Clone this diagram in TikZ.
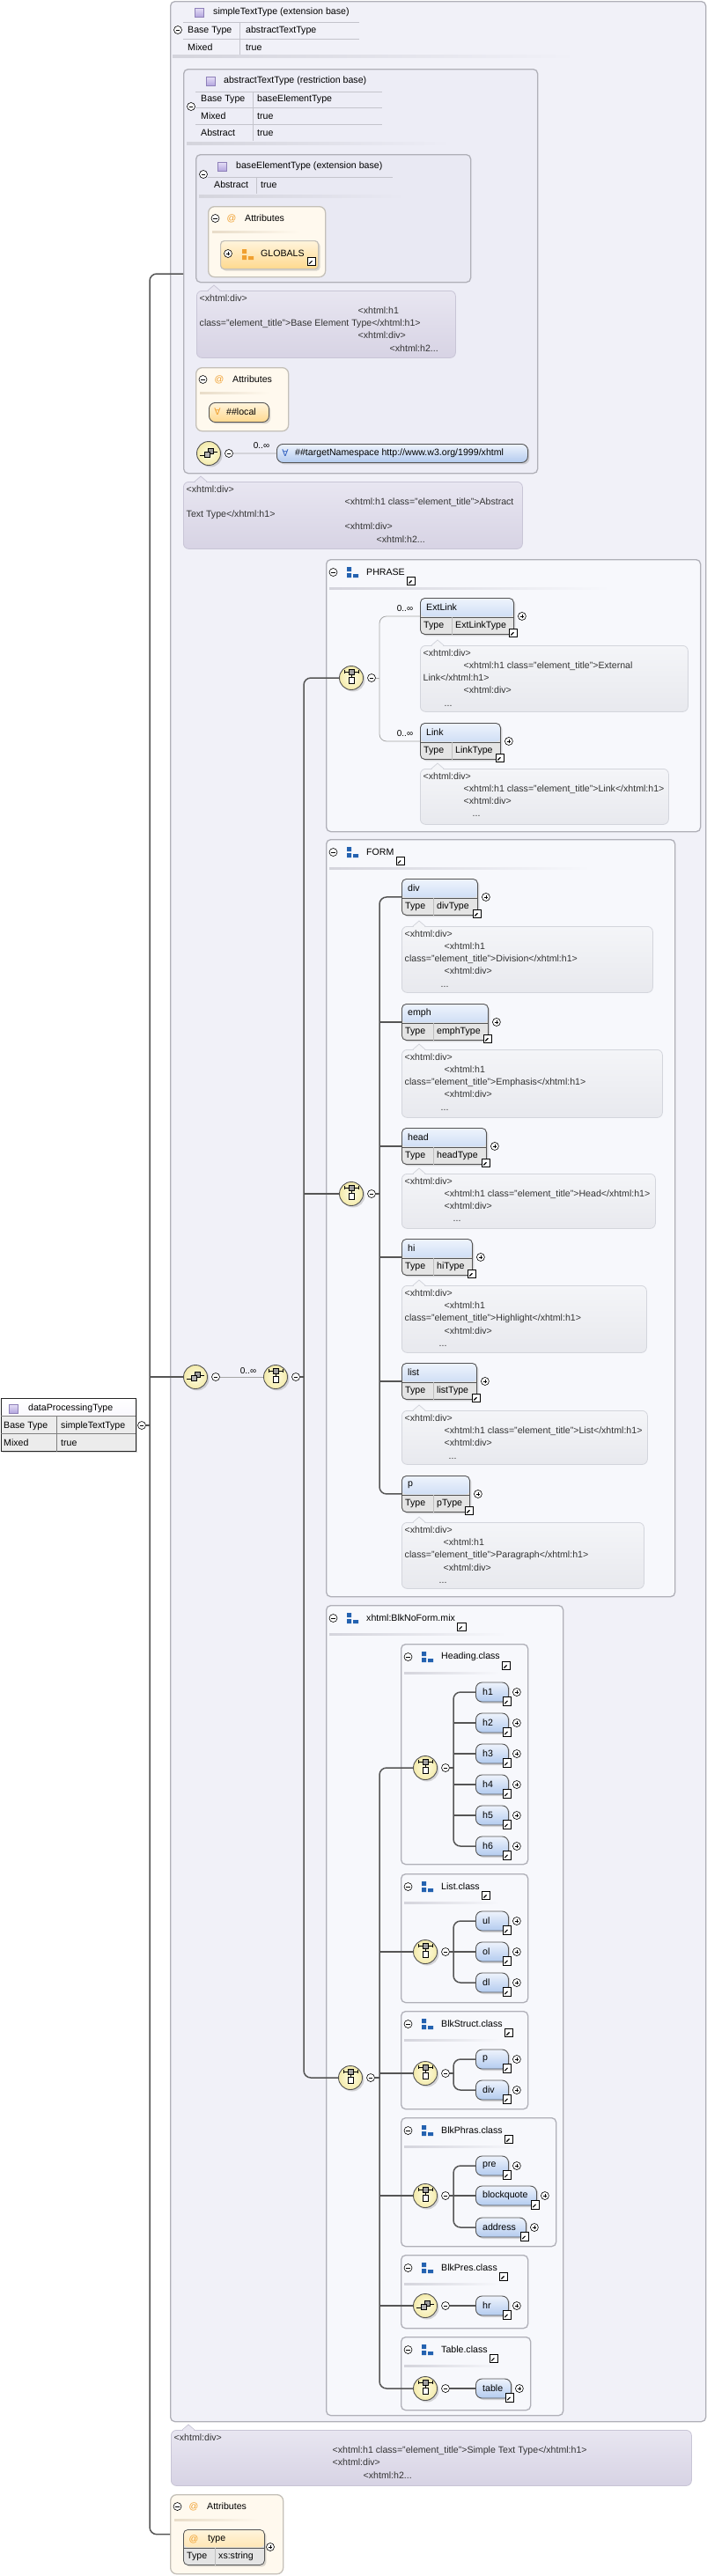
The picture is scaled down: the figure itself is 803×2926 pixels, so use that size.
\documentclass[tikz,border=0pt]{standalone}
\usepackage{fontspec}
\setmainfont{Liberation Sans}
\newfontfamily\symfont{DejaVu Sans}
\usetikzlibrary{shadows}
\definecolor{cline}{HTML}{555555}
\definecolor{boxline}{HTML}{B0B0B8}
\definecolor{tlinec}{HTML}{C4C4CC}
\definecolor{sepcol}{HTML}{D4D4DC}
\definecolor{sttbg}{HTML}{F1F1F8}
\definecolor{absbg}{HTML}{EDEDF6}
\definecolor{basebg}{HTML}{E9E9F3}
\definecolor{grpbg}{HTML}{F7F8FC}
\definecolor{lavA}{HTML}{E8E6F1}
\definecolor{lavB}{HTML}{D7D3E4}
\definecolor{lavL}{HTML}{C8C5D6}
\definecolor{gryA}{HTML}{F4F5F8}
\definecolor{gryB}{HTML}{E8E9EE}
\definecolor{gryL}{HTML}{D3D5DC}
\definecolor{bluA}{HTML}{EEF3FC}
\definecolor{bluB}{HTML}{B3CBEF}
\definecolor{cellg}{HTML}{E4E4E4}
\definecolor{ornA}{HTML}{FFF4DC}
\definecolor{ornB}{HTML}{FFD98E}
\definecolor{attrbg}{HTML}{FFF9EE}
\definecolor{abline}{HTML}{C4C0B8}
\definecolor{asep}{HTML}{E8DCC8}
\definecolor{yelA}{HTML}{FFFDE2}
\definecolor{yelB}{HTML}{F3EAAA}
\definecolor{grpblue}{HTML}{2462B0}
\definecolor{atcol}{HTML}{F0A030}
\definecolor{anyblue}{HTML}{3060C0}
\definecolor{typA}{HTML}{E6DFF7}
\definecolor{typB}{HTML}{B4A6DE}
\definecolor{typL}{HTML}{8E80B8}
\definecolor{doctext}{HTML}{333333}

\newcommand\grpicon[2]{%
  \fill[#2] ([shift={(-6,-6)}]#1) rectangle ([shift={(-1,-1)}]#1)
    ([shift={(-6,1)}]#1) rectangle ([shift={(-1,6)}]#1)
    ([shift={(1,2)}]#1) rectangle ([shift={(7,6)}]#1);}
\newcommand\xchoice[3]{%
  \node[comp] (#1) at (#2,#3) {};
  \draw[line width=0.7pt] ([shift={(-8,-7)}]#1.center) -- ([shift={(8,-7)}]#1.center)
    ([shift={(-8,-9)}]#1.center) -- ([shift={(-8,-5)}]#1.center)
    ([shift={(8,-9)}]#1.center) -- ([shift={(8,-5)}]#1.center)
    ([shift={(0,-4)}]#1.center) -- ([shift={(0,-1)}]#1.center);
  \draw[fill=gray!75, line width=0.5pt] ([shift={(-3,-10)}]#1.center) rectangle ([shift={(3,-4)}]#1.center);
  \draw[fill=white, line width=0.6pt] ([shift={(-3,-1)}]#1.center) rectangle ([shift={(3,6)}]#1.center);
  \node[minus] (#1-m) at ([xshift=23pt]#1.center) {};}
\newcommand\xseq[3]{%
  \node[comp] (#1) at (#2,#3) {};
  \draw[line width=0.7pt] ([shift={(-10,2)}]#1.center) -- ([shift={(-5,2)}]#1.center)
    ([shift={(5,-2)}]#1.center) -- ([shift={(10,-2)}]#1.center);
  \draw[fill=gray!75, line width=0.5pt] ([shift={(-1,-6)}]#1.center) rectangle ([shift={(5,0)}]#1.center);
  \draw[fill=gray!60, line width=0.5pt] ([shift={(-5,-2)}]#1.center) rectangle ([shift={(1,4)}]#1.center);
  \node[minus] (#1-m) at ([xshift=23pt]#1.center) {};}
\newcommand\xelem[6]{%
  \node[elem, minimum width=#4pt] (#1) at (#2,#3) {};
  \draw[cline, line width=0.6pt] ([yshift=20pt]#1.south west) -- ([yshift=20pt]#1.south east);
  \draw[white!75!black, line width=0.6pt] ([xshift=36pt]#1.south west) -- ([shift={(36pt,20pt)}]#1.south west);
  \node[lbl] (#1-n) at ([shift={(7pt,-11pt)}]#1.north west) {#5};
  \node[lbl] (#1-k) at ([shift={(4pt,10pt)}]#1.south west) {Type};
  \node[lbl] (#1-v) at ([shift={(40pt,10pt)}]#1.south west) {#6};
  \node[plus] (#1-p) at ([xshift=9pt]#1.east) {};
  \node[lnk] (#1-l) at ([shift={(-1pt,2pt)}]#1.south east) {};}
\newcommand\xsel[5][37]{%
  \node[sel, minimum width=#1pt] (#2) at (#3,#4) {};
  \node[lbl] (#2-n) at ([xshift=8pt]#2.west) {#5};
  \node[plus] (#2-p) at ([xshift=9pt]#2.east) {};
  \node[lnk] (#2-l) at ([shift={(-2pt,1pt)}]#2.south east) {};}
\newcommand\xgrp[6]{%
  \node[grpbox, minimum width=#4pt, minimum height=#5pt] (#1) at (#2,#3) {};
  \node[minus] (#1-m) at ([shift={(8.5pt,-15pt)}]#1.north west) {};
  \coordinate (#1-i) at ([shift={(30pt,-15pt)}]#1.north west);
  \grpicon{#1-i}{grpblue}
  \node[lbl] (#1-n) at ([shift={(46pt,-15pt)}]#1.north west) {#6};
  \node[lnk] (#1-l) at ([shift={(7pt,-10pt)}]#1-n.east) {};
  \fill[left color=sepcol, right color=grpbg] ([shift={(4pt,-32pt)}]#1.north west) rectangle ++(0.75*#4,2.5);}
\newcommand\xattr[5]{%
  \node[abox, minimum width=#4pt, minimum height=#5pt] (#1) at (#2,#3) {};
  \node[minus] (#1-m) at ([shift={(8.5pt,-14pt)}]#1.north west) {};
  \node[lbl, anchor=center, text=atcol] (#1-a) at ([shift={(27pt,-14pt)}]#1.north west) {@};
  \node[lbl] (#1-n) at ([shift={(42pt,-14pt)}]#1.north west) {Attributes};
  \fill[left color=asep, right color=attrbg] ([shift={(5pt,-28pt)}]#1.north west) rectangle ++(0.75*#4,2.5);}
\newcommand\xdoc[7]{%
  \node[docbox=#1, minimum width=#5pt, minimum height=#6pt] (#2) at (#3,#4) {};
  \fill[#1A] (#3+13,#4+1.5) -- (#3+20,#4-6) -- (#3+27,#4+1.5) -- cycle;
  \draw[#1L, line width=0.8pt] (#3+13,#4) -- (#3+20,#4-6) -- (#3+27,#4);
  \node[doctxt] (#2-t) at ([shift={(3.5pt,-4.5pt)}]#2.north west) {#7};}

\begin{document}
\begin{tikzpicture}[x=1pt, y=-1pt,
  lbl/.style={font=\fontsize{10.6}{13}\selectfont, inner sep=0pt, anchor=west},
  doctxt/.style={font=\fontsize{10.6}{14.2}\selectfont, text=doctext, inner sep=0pt, anchor=north west, align=left},
  card/.style={font=\fontsize{10}{12}\selectfont, inner sep=0pt},
  shd/.style={drop shadow={shadow xshift=2pt, shadow yshift=-2pt, opacity=0.3}},
  box/.style={draw=boxline, line width=1.3pt, rounded corners=5pt, anchor=north west, inner sep=0pt},
  grpbox/.style={box, fill=grpbg},
  abox/.style={box, draw=abline, fill=attrbg, rounded corners=7pt},
  tline/.style={draw=tlinec, line width=0.8pt},
  tico/.style={draw=typL, line width=0.6pt, minimum size=10pt, inner sep=0pt, top color=typA, bottom color=typB},
  docbox/.style={draw=#1L, line width=0.8pt, rounded corners=6pt, top color=#1A, bottom color=#1B, anchor=north west, inner sep=0pt},
  elem/.style={draw=cline, line width=0.9pt, rounded corners=5pt, minimum height=41pt, inner sep=0pt, anchor=north west, fill=cellg, shd,
    path picture={\fill[top color=bluA, bottom color=bluB] (path picture bounding box.north west) rectangle ([yshift=20pt]path picture bounding box.south east);}},
  sel/.style={draw=cline, line width=0.9pt, rounded corners=7pt, minimum height=22pt, inner sep=0pt, anchor=west, top color=bluA, bottom color=bluB, shd},
  anybox/.style={sel, anchor=north west},
  lbox/.style={sel, anchor=north west, top color=ornA, bottom color=ornB},
  gbox/.style={draw=abline, line width=1.2pt, rounded corners=4pt, anchor=north west, inner sep=0pt, top color=ornA, bottom color=ornB, shd},
  tattr/.style={draw=cline, line width=0.8pt, rounded corners=5pt, anchor=north west, inner sep=0pt, fill=cellg, minimum width=92pt, minimum height=40pt, shd,
    path picture={\fill[top color=ornA, bottom color=ornB] (path picture bounding box.north west) rectangle ([yshift=20pt]path picture bounding box.south east);}},
  dptbox/.style={draw=black!85, line width=0.9pt, anchor=north west, inner sep=0pt, fill=cellg!70, shd,
    path picture={\fill[top color=white, bottom color=typA!70] (path picture bounding box.north west) rectangle ([yshift=-20pt]path picture bounding box.north east);}},
  comp/.style={circle, draw=cline, line width=0.9pt, minimum size=27pt, inner sep=0pt, inner color=yelA, outer color=yelB, shd},
  minus/.style={circle, draw=black, fill=white, line width=0.6pt, minimum size=9pt, inner sep=0pt,
    path picture={\draw[line width=0.7pt] ([xshift=-2.4pt]path picture bounding box.center) -- ([xshift=2.4pt]path picture bounding box.center);}},
  plus/.style={minus,
    path picture={\draw[line width=0.7pt] ([xshift=-2.4pt]path picture bounding box.center) -- ([xshift=2.4pt]path picture bounding box.center)
      ([yshift=-2.4pt]path picture bounding box.center) -- ([yshift=2.4pt]path picture bounding box.center);}},
  lnk/.style={draw=black, fill=white, line width=0.6pt, minimum size=9.5pt, inner sep=0pt,
    path picture={\draw[line width=1.2pt] ([shift={(-2.6pt,-2.6pt)}]path picture bounding box.center) -- ([shift={(1pt,1pt)}]path picture bounding box.center);
      \fill ([shift={(3pt,3pt)}]path picture bounding box.center) -- ([shift={(-1.6pt,3pt)}]path picture bounding box.center) -- ([shift={(3pt,-1.6pt)}]path picture bounding box.center) -- cycle;}},
  cn/.style={draw=cline, line width=1.5pt, rounded corners=8pt},
  opt/.style={draw=gray!70, line width=0.8pt, rounded corners=8pt}]

\path[use as bounding box, fill=white] (0,0) rectangle (803,2926);

\node[box, fill=sttbg, minimum width=608pt, minimum height=2749pt] (stt) at (193,1) {};
\node[tico] (stt-i) at (226,14) {};
\node[lbl] (stt-n) at (242,14) {simpleTextType (extension base)};
\node[minus] (stt-m) at (202,34) {};
\draw[tline] (208,25) -- (408,25) (208,44) -- (408,44) (272,25) -- (272,62);
\node[lbl] (stt-k1) at (213,35) {Base Type};
\node[lbl] (stt-v1) at (279,35) {abstractTextType};
\node[lbl] (stt-k2) at (213,54) {Mixed};
\node[lbl] (stt-v2) at (279,54) {true};
\fill[left color=sepcol, right color=sttbg] (196,62) rectangle (654,65);

\node[box, fill=absbg, minimum width=402pt, minimum height=459pt] (att) at (208,78) {};
\node[tico] (att-i) at (239,92) {};
\node[lbl] (att-n) at (254,92) {abstractTextType (restriction base)};
\node[minus] (att-m) at (217,121) {};
\draw[tline] (222,104) -- (434,104) (222,122) -- (434,122) (222,141) -- (434,141) (287,104) -- (287,160);
\node[lbl] (att-k1) at (228,113) {Base Type};
\node[lbl] (att-v1) at (292,113) {baseElementType};
\node[lbl] (att-k2) at (228,132) {Mixed};
\node[lbl] (att-v2) at (292,132) {true};
\node[lbl] (att-k3) at (228,151) {Abstract};
\node[lbl] (att-v3) at (292,151) {true};
\fill[left color=sepcol, right color=absbg] (212,161) rectangle (511,164);

\node[box, fill=basebg, minimum width=312pt, minimum height=145pt] (bet) at (222,175) {};
\node[tico] (bet-i) at (252,189) {};
\node[lbl] (bet-n) at (268,189) {baseElementType (extension base)};
\node[minus] (bet-m) at (231,198) {};
\draw[tline] (236,201) -- (446,201) (291,201) -- (291,220);
\node[lbl] (bet-k1) at (243,210) {Abstract};
\node[lbl] (bet-v1) at (296,210) {true};
\fill[left color=sepcol, right color=basebg] (226,221) rectangle (460,224);

\xattr{attr1}{236}{234}{133}{80}
\node[gbox, minimum width=111pt, minimum height=32pt] (glob) at (250,273) {};
\node[plus] (glob-p) at (259,288) {};
\coordinate (glob-i) at (281,289);
\grpicon{glob-i}{atcol}
\node[lbl] (glob-n) at (296,288) {GLOBALS};
\node[lnk] (glob-l) at ([shift={(8pt,-9pt)}]glob-n.east) {};

\xdoc{lav}{bdoc}{223}{330}{294}{76}{<xhtml:div>\\
\hspace*{180pt}<xhtml:h1\\
class="element\_title">Base Element Type</xhtml:h1>\\
\hspace*{180pt}<xhtml:div>\\
\hspace*{216pt}<xhtml:h2...}

\xattr{attr2}{222}{417}{105}{72}
\node[lbox, minimum width=68pt, minimum height=22pt] (loc) at (237,457) {};
\node[lbl, anchor=center, text=atcol] (loc-a) at (247,468) {\symfont ∀};
\node[lbl] (loc-n) at (257,468) {\#\#local};

\xseq{s1}{237}{515}
\node[card] (k1) at (297,506) {0..∞};
\node[anybox, minimum width=285pt, minimum height=21pt] (any1) at (314,504) {};
\node[lbl, anchor=center, text=anyblue] (any1-a) at (324,514.5) {\symfont ∀};
\node[lbl] (any1-n) at (335,514.5) {\#\#targetNamespace http://www.w3.org/1999/xhtml};

\xdoc{lav}{adoc}{208}{547}{385}{76}{<xhtml:div>\\
\hspace*{180pt}<xhtml:h1 class="element\_title">Abstract\\
Text Type</xhtml:h1>\\
\hspace*{180pt}<xhtml:div>\\
\hspace*{216pt}<xhtml:h2...}

\xgrp{phrase}{370}{635}{425}{309}{PHRASE}
\xchoice{c1}{399}{770}
\node[card] (k2) at (460,691) {0..∞};
\xelem{extlink}{477}{679}{106}{ExtLink}{ExtLinkType}
\xdoc{gry}{extlink-d}{477}{733}{304}{75}{<xhtml:div>\\
\hspace*{46pt}<xhtml:h1 class="element\_title">External\\
Link</xhtml:h1>\\
\hspace*{46pt}<xhtml:div>\\
\hspace*{24pt}...}
\node[card] (k3) at (460,833) {0..∞};
\xelem{link}{477}{821}{91}{Link}{LinkType}
\xdoc{gry}{link-d}{477}{873}{282}{63}{<xhtml:div>\\
\hspace*{46pt}<xhtml:h1 class="element\_title">Link</xhtml:h1>\\
\hspace*{46pt}<xhtml:div>\\
\hspace*{56pt}...}

\xgrp{form}{370}{953}{396}{860}{FORM}
\xchoice{c2}{399}{1356}
\xelem{div}{456}{998}{86}{div}{divType}
\xdoc{gry}{div-d}{456}{1052}{285}{75}{<xhtml:div>\\
\hspace*{45pt}<xhtml:h1\\
class="element\_title">Division</xhtml:h1>\\
\hspace*{45pt}<xhtml:div>\\
\hspace*{41pt}...}
\xelem{emph}{456}{1140}{98}{emph}{emphType}
\xdoc{gry}{emph-d}{456}{1192}{296}{77}{<xhtml:div>\\
\hspace*{45pt}<xhtml:h1\\
class="element\_title">Emphasis</xhtml:h1>\\
\hspace*{45pt}<xhtml:div>\\
\hspace*{41pt}...}
\xelem{head}{456}{1281}{96}{head}{headType}
\xdoc{gry}{head-d}{456}{1333}{288}{62}{<xhtml:div>\\
\hspace*{45pt}<xhtml:h1 class="element\_title">Head</xhtml:h1>\\
\hspace*{45pt}<xhtml:div>\\
\hspace*{55pt}...}
\xelem{hi}{456}{1407}{80}{hi}{hiType}
\xdoc{gry}{hi-d}{456}{1460}{278}{76}{<xhtml:div>\\
\hspace*{45pt}<xhtml:h1\\
class="element\_title">Highlight</xhtml:h1>\\
\hspace*{45pt}<xhtml:div>\\
\hspace*{39pt}...}
\xelem{list}{456}{1548}{85}{list}{listType}
\xdoc{gry}{list-d}{456}{1602}{279}{61}{<xhtml:div>\\
\hspace*{45pt}<xhtml:h1 class="element\_title">List</xhtml:h1>\\
\hspace*{45pt}<xhtml:div>\\
\hspace*{50pt}...}
\xelem{p}{456}{1676}{77}{p}{pType}
\xdoc{gry}{p-d}{456}{1729}{275}{75}{<xhtml:div>\\
\hspace*{44pt}<xhtml:h1\\
class="element\_title">Paragraph</xhtml:h1>\\
\hspace*{44pt}<xhtml:div>\\
\hspace*{39pt}...}

\xgrp{blk}{370}{1823}{269}{920}{xhtml:BlkNoForm.mix}
\xchoice{c3}{398}{2360}
\xgrp{heading}{455}{1867}{144}{250}{Heading.class}
\xchoice{hc}{483}{2008}
\foreach \h/\y in {1/1922,2/1957,3/1992,4/2027,5/2062,6/2097}
  {\xsel{h\h}{540}{\y}{h\h}}
\xgrp{listc}{455}{2128}{144}{146}{List.class}
\xchoice{lc}{483}{2217}
\xsel{ul}{540}{2182}{ul}
\xsel{ol}{540}{2217}{ol}
\xsel{dl}{540}{2252}{dl}
\xgrp{struct}{455}{2284}{144}{111}{BlkStruct.class}
\xchoice{sc}{483}{2355}
\xsel{sp}{540}{2339}{p}
\xsel{sdiv}{540}{2374}{div}
\xgrp{phras}{455}{2405}{176}{146}{BlkPhras.class}
\xchoice{pc}{483}{2494}
\xsel{pre}{540}{2460}{pre}
\xsel[69]{bq}{540}{2494}{blockquote}
\xsel[57]{addr}{540}{2530}{address}
\xgrp{pres}{455}{2561}{144}{83}{BlkPres.class}
\xseq{rc}{483}{2619}
\xsel{hr}{540}{2619}{hr}
\xgrp{tablec}{455}{2654}{147}{83}{Table.class}
\xchoice{tc}{483}{2713}
\xsel[40]{tbl}{540}{2713}{table}

\xseq{s0}{222}{1564}
\node[card] (k0) at (282,1557) {0..∞};
\xchoice{c0}{313}{1564}

\node[dptbox, minimum width=153pt, minimum height=60pt] (dpt) at (0.5,1588) {};
\draw[tline, draw=gray] ([yshift=-20pt]dpt.north west) -- ([yshift=-20pt]dpt.north east)
  ([yshift=-40pt]dpt.north west) -- ([yshift=-40pt]dpt.north east)
  ([shift={(64pt,-20pt)}]dpt.north west) -- ([xshift=64pt]dpt.south west);
\node[tico] (dpt-i) at (15,1600) {};
\node[lbl] (dpt-n) at (32,1600) {dataProcessingType};
\node[lbl] (dpt-k1) at (4,1620) {Base Type};
\node[lbl] (dpt-v1) at (69,1620) {simpleTextType};
\node[lbl] (dpt-k2) at (4,1639) {Mixed};
\node[lbl] (dpt-v2) at (69,1639) {true};
\node[minus] (dpt-m) at (161,1619) {};

\xdoc{lav}{sdoc}{194}{2760}{591}{63}{<xhtml:div>\\
\hspace*{180pt}<xhtml:h1 class="element\_title">Simple Text Type</xhtml:h1>\\
\hspace*{180pt}<xhtml:div>\\
\hspace*{215pt}<xhtml:h2...}

\xattr{attr3}{193}{2833}{128}{90}
\node[tattr] (tatt) at (208,2873) {};
\draw[cline, line width=0.6pt] ([yshift=20pt]tatt.south west) -- ([yshift=20pt]tatt.south east);
\draw[white!75!black, line width=0.6pt] ([xshift=36pt]tatt.south west) -- ([shift={(36pt,20pt)}]tatt.south west);
\node[lbl, anchor=center, text=atcol] (tatt-a) at (220,2884) {@};
\node[lbl] (tatt-n) at (236,2884) {type};
\node[lbl] (tatt-k) at (212,2904) {Type};
\node[lbl] (tatt-v) at (248,2904) {xs:string};
\node[plus] (tatt-p) at (307,2893) {};

\coordinate (trk) at (170,311);
\coordinate (tk2) at (345,770);
\coordinate (b1) at (431,770);
\coordinate (b2) at (515,2008);

\draw[cn] (dpt-m) -- (dpt-m -| trk);
\draw[cn] (att.west |- trk) -| (trk |- attr3.west) -- (attr3.west);
\draw[cn] (trk |- s0) -- (s0);
\draw[opt] (s0-m) -- (c0);
\draw[cn] (c0-m) -- (c0-m -| tk2);
\draw[opt] (s1-m) -- (any1);
\draw[cn] (c1.west) -| (tk2 |- c3) -- (c3.west);
\draw[cn] (tk2 |- c2) -- (c2.west);
\draw[opt] (c1-m) -- (c1-m -| b1);
\draw[opt] (extlink.west) -| (b1 |- link) -- (link.west);
\draw[cn] (c2-m) -- (c2-m -| b1);
\draw[cn] (div.west) -| (b1 |- p) -- (p.west);
\foreach \e in {emph,head,hi,list} \draw[cn] (b1 |- \e) -- (\e.west);
\draw[cn] (c3-m) -- (c3-m -| b1);
\draw[cn] (hc.west) -| (b1 |- tc) -- (tc.west);
\foreach \e in {lc,sc,pc,rc} \draw[cn] (b1 |- \e) -- (\e.west);
\draw[cn] (hc-m) -- (hc-m -| b2);
\draw[cn] (h1.west) -| (b2 |- h6) -- (h6.west);
\foreach \e in {h2,h3,h4,h5} \draw[cn] (b2 |- \e) -- (\e.west);
\draw[cn] (lc-m) -- (lc-m -| b2);
\draw[cn] (ul.west) -| (b2 |- dl) -- (dl.west);
\draw[cn] (b2 |- ol) -- (ol.west);
\draw[cn] (sc-m) -- (sc-m -| b2);
\draw[cn] (sp.west) -| (b2 |- sdiv) -- (sdiv.west);
\draw[cn] (pc-m) -- (pc-m -| b2);
\draw[cn] (pre.west) -| (b2 |- addr) -- (addr.west);
\draw[cn] (b2 |- bq) -- (bq.west);
\draw[cn] (rc-m) -- (hr);
\draw[cn] (tc-m) -- (tbl);
\end{tikzpicture}
\end{document}
